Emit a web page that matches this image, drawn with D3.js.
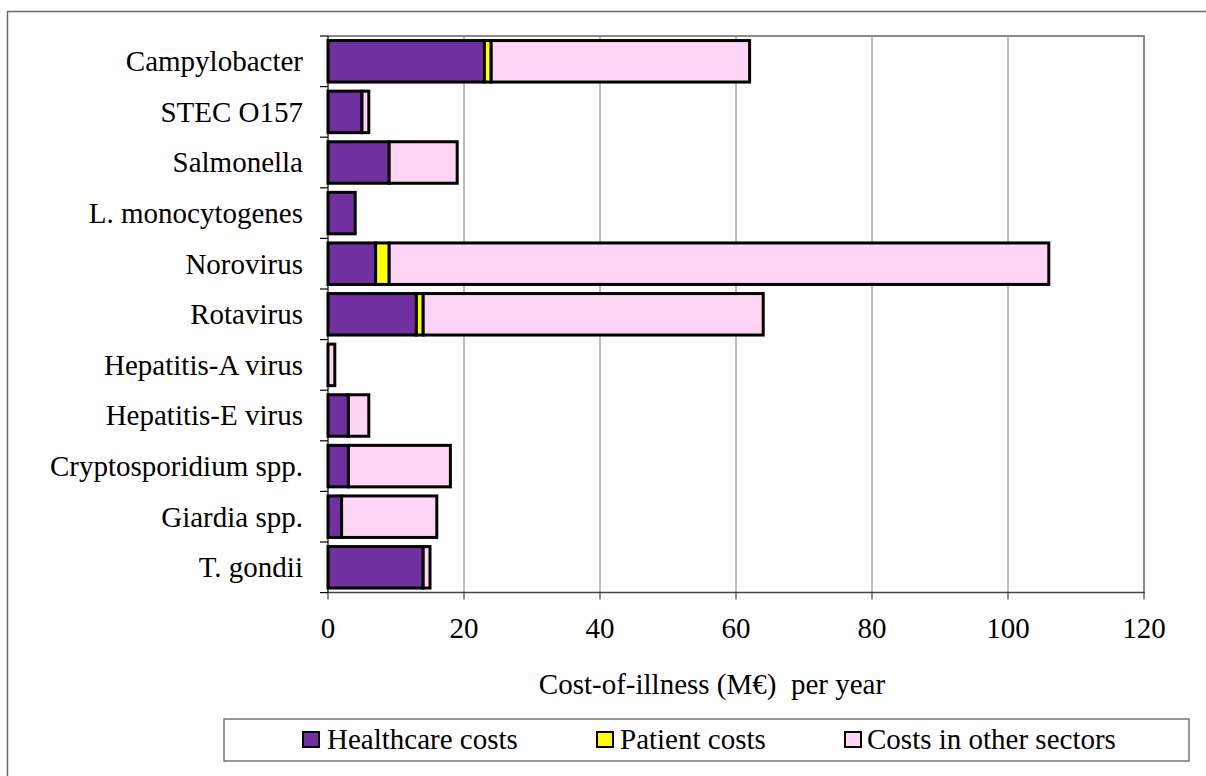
<!DOCTYPE html>
<html>
<head>
<meta charset="utf-8">
<script src="https://cdn.jsdelivr.net/npm/d3@7"></script>
<style>
  html, body { margin: 0; padding: 0; background: #fff; }
  svg { display: block; }
</style>
</head>
<body>
<svg id="chart" width="1206" height="776" font-family="'Liberation Serif', 'Times New Roman', Tinos, 'DejaVu Serif', serif"></svg>
<script>
// Pathogens, top to bottom
const pathogens = [
  "Campylobacter", "STEC O157", "Salmonella", "L. monocytogenes", "Norovirus",
  "Rotavirus", "Hepatitis-A virus", "Hepatitis-E virus", "Cryptosporidium spp.",
  "Giardia spp.", "T. gondii"
];
// Cost-of-illness per year (M€) by cost component
const healthcareCosts = [23, 5, 9, 4, 7, 13, 0, 3, 3, 2, 14];
const patientCosts    = [1, 0, 0, 0, 2, 1, 0, 0, 0, 0, 0];
const otherSectorCosts = [38, 1, 10, 0, 97, 50, 1, 3, 15, 14, 1];

const seriesNames = ["Healthcare costs", "Patient costs", "Costs in other sectors"];
const seriesColors = ["#7030A0", "#FFFF00", "#FFD5F5"];
const xTicks = [0, 20, 40, 60, 80, 100, 120];
const axisTitle = "Cost-of-illness (M\u20AC)\u00A0 per year";

const svg = d3.select("#chart");
const FONT = 29;
const FAMILY = "Liberation Serif";

// outer frame
svg.append("rect")
  .attr("x", 7.5).attr("y", 11.5)
  .attr("width", 1220).attr("height", 790)
  .attr("fill", "none").attr("stroke", "#6b6b6b").attr("stroke-width", 1.5);

const plot = { left: 328, right: 1144, top: 36, bottom: 592.6 };

const x = d3.scaleLinear().domain([0, 120]).range([plot.left, plot.right]);
const y = d3.scaleBand().domain(pathogens)
  .range([plot.top, plot.bottom])
  .paddingInner(0.18).paddingOuter(0.09);

// vertical gridlines
svg.append("g").selectAll("line")
  .data(xTicks.filter(t => t > 0 && t < 120))
  .join("line")
  .attr("x1", d => x(d)).attr("x2", d => x(d))
  .attr("y1", plot.top).attr("y2", plot.bottom)
  .attr("stroke", "#7a7a7a").attr("stroke-width", 1);

// plot area top and right border
svg.append("path")
  .attr("d", `M${plot.left},${plot.top}H${plot.right}V${plot.bottom}`)
  .attr("fill", "none").attr("stroke", "#8a8a8a").attr("stroke-width", 2);

// stacked bars
const rows = pathogens.map((p, i) => ({
  name: p, values: [healthcareCosts[i], patientCosts[i], otherSectorCosts[i]]
}));
const segs = [];
rows.forEach(r => {
  let acc = 0;
  r.values.forEach((v, k) => {
    if (v > 0) segs.push({ name: r.name, k, x0: acc, x1: acc + v });
    acc += v;
  });
});
svg.append("g").selectAll("rect")
  .data(segs)
  .join("rect")
  .attr("x", d => x(d.x0))
  .attr("y", d => y(d.name))
  .attr("width", d => x(d.x1) - x(d.x0))
  .attr("height", y.bandwidth())
  .attr("fill", d => seriesColors[d.k])
  .attr("stroke", "#000").attr("stroke-width", 3);

// x axis
const xAxis = svg.append("g").attr("transform", `translate(0,${plot.bottom})`);
xAxis.append("line")
  .attr("x1", plot.left - 1).attr("x2", plot.right + 1)
  .attr("stroke", "#444").attr("stroke-width", 1.5);
xAxis.selectAll("line.tick").data(xTicks).join("line")
  .attr("class", "tick")
  .attr("x1", d => x(d)).attr("x2", d => x(d))
  .attr("y1", 0).attr("y2", 7)
  .attr("stroke", "#444").attr("stroke-width", 1.2);
xAxis.selectAll("text").data(xTicks).join("text")
  .attr("x", d => x(d)).attr("y", 45)
  .attr("text-anchor", "middle")
  .attr("font-family", FAMILY)
  .attr("font-size", FONT)
  .text(d => d);

// y axis
const yAxis = svg.append("g");
yAxis.append("line")
  .attr("x1", plot.left).attr("x2", plot.left)
  .attr("y1", plot.top).attr("y2", plot.bottom)
  .attr("stroke", "#000").attr("stroke-width", 1.2);
const step = y.step();
yAxis.selectAll("line.tick").data(d3.range(pathogens.length + 1)).join("line")
  .attr("class", "tick")
  .attr("x1", plot.left - 8).attr("x2", plot.left)
  .attr("y1", i => plot.top + i * step).attr("y2", i => plot.top + i * step)
  .attr("stroke", "#000").attr("stroke-width", 1.2);
yAxis.selectAll("text").data(pathogens).join("text")
  .attr("x", 303)
  .attr("y", d => y(d) + y.bandwidth() / 2)
  .attr("dy", "0.34em")
  .attr("text-anchor", "end")
  .attr("font-family", FAMILY)
  .attr("font-size", FONT)
  .text(d => d);

// axis title
svg.append("text")
  .attr("x", 712).attr("y", 694)
  .attr("text-anchor", "middle")
  .attr("font-family", FAMILY)
  .attr("font-size", FONT)
  .text(axisTitle);

// legend
const legend = svg.append("g");
legend.append("rect")
  .attr("x", 224).attr("y", 719)
  .attr("width", 965).attr("height", 42)
  .attr("fill", "#fff").attr("stroke", "#777").attr("stroke-width", 1.5);
const legendSwatchX = [303, 597, 845];
const legendTextX = [327, 620, 867];
const items = legend.selectAll("g.item").data(seriesNames).join("g")
  .attr("class", "item");
items.append("rect")
  .attr("x", (d, i) => legendSwatchX[i]).attr("y", 732)
  .attr("width", 16).attr("height", 15)
  .attr("fill", (d, i) => seriesColors[i])
  .attr("stroke", "#000").attr("stroke-width", 2);
items.append("text")
  .attr("x", (d, i) => legendTextX[i]).attr("y", 749)
  .attr("font-family", FAMILY)
  .attr("font-size", FONT)
  .text(d => d);
</script>
</body>
</html>
